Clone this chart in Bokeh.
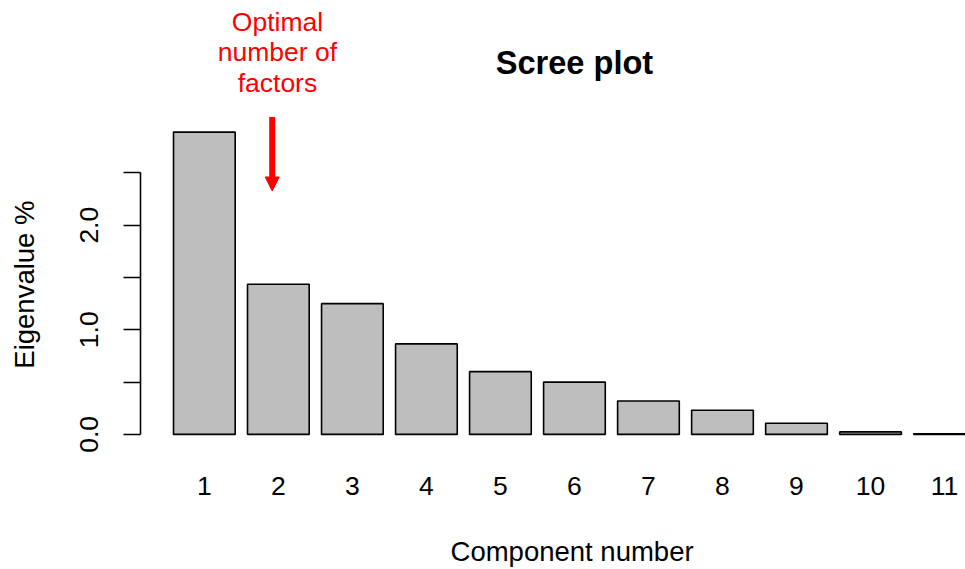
from bokeh.plotting import figure
from bokeh.models import Range1d, FixedTicker, Arrow, NormalHead, Label, ColumnDataSource
from bokeh.embed import file_html
from bokeh.resources import INLINE
from bokeh.core.properties import value

# ---- data ----
components = ["1", "2", "3", "4", "5", "6", "7", "8", "9", "10", "11"]
eigenvalues = [2.89, 1.435, 1.25, 0.865, 0.60, 0.50, 0.32, 0.231, 0.107, 0.024, 0.005]
y_ticks = [0.0, 0.5, 1.0, 1.5, 2.0, 2.5]
y_tick_labels = ["0.0", "", "1.0", "", "2.0", ""]

FONT = "Liberation Sans"
NBSP = "\u00a0"

# R barplot layout: width 1, space 0.2
bar_w = 1.0
space = 0.2
centers = [space * (i + 1) + bar_w * i + bar_w / 2 for i in range(len(components))]

src = ColumnDataSource(dict(x=centers, top=eigenvalues, label=components))

p = figure(width=965, height=569, output_backend="svg", toolbar_location=None,
           x_range=Range1d(-0.335, 13.04), y_range=Range1d(-0.1157, -0.1157 + 446 / 104.6),
           min_border_left=140, min_border_right=0, min_border_top=0, min_border_bottom=123)

p.vbar(x="x", top="top", bottom=0, width=bar_w, source=src,
       fill_color="#BEBEBE", line_color="black", line_width=1.6)

p.xgrid.visible = False
p.ygrid.visible = False
p.outline_line_color = None
p.background_fill_color = "white"
p.border_fill_color = "white"

# y axis
ya = p.yaxis[0]
ya.ticker = FixedTicker(ticks=y_ticks)
ya.major_label_overrides = {t: l for t, l in zip(y_ticks, y_tick_labels)}
ya.bounds = (0, 2.5)
ya.minor_tick_line_color = None
ya.major_tick_in = 0
ya.major_tick_out = 17
ya.major_tick_line_width = 1.6
ya.axis_line_width = 1.6
ya.major_label_orientation = "vertical"
ya.major_label_standoff = 25
ya.major_label_text_font = FONT
ya.major_label_text_font_size = "26.5px"
ya.major_label_text_color = "black"
# trailing no-break spaces centre the title on R's plot region rather than the full frame
ya.axis_label = "Eigenvalue %" + NBSP * 16
ya.axis_label_text_font = FONT
ya.axis_label_text_font_size = "27.5px"
ya.axis_label_text_font_style = "normal"
ya.axis_label_text_color = "black"
ya.axis_label_standoff = 38

# x axis
xa = p.xaxis[0]
xa.ticker = FixedTicker(ticks=centers)
xa.major_label_overrides = {c: l for c, l in zip(centers, components)}
xa.axis_line_color = None
xa.major_tick_line_color = None
xa.minor_tick_line_color = None
xa.major_tick_in = 0
xa.major_tick_out = 0
xa.major_label_standoff = 30
xa.major_label_text_font = FONT
xa.major_label_text_font_size = "26.5px"
xa.major_label_text_color = "black"
xa.axis_label = NBSP * 5 + "Component number"
xa.axis_label_text_font = FONT
xa.axis_label_text_font_size = "27.5px"
xa.axis_label_text_font_style = "normal"
xa.axis_label_text_color = "black"
xa.axis_label_standoff = 38

# title
p.add_layout(Label(x=6.7, y=3.56, text="Scree plot", text_font=FONT, text_font_size="32.6px",
                   text_font_style="bold", text_align="center", text_baseline="middle",
                   text_color="black"))

# annotation
p.text(x=[1.885], y=[3.651], text=["Optimal\nnumber of\nfactors"],
       text_font=value(FONT), text_font_size="26.5px", text_color="red",
       text_align="center", text_baseline="middle", text_line_height=1.03)
p.add_layout(Arrow(end=NormalHead(size=14, fill_color="red", line_color="red", line_width=1),
                   x_start=1.8, y_start=3.035, x_end=1.8, y_end=2.327,
                   line_color="red", line_width=6))

open("out.html", "w").write(file_html(p, INLINE))
